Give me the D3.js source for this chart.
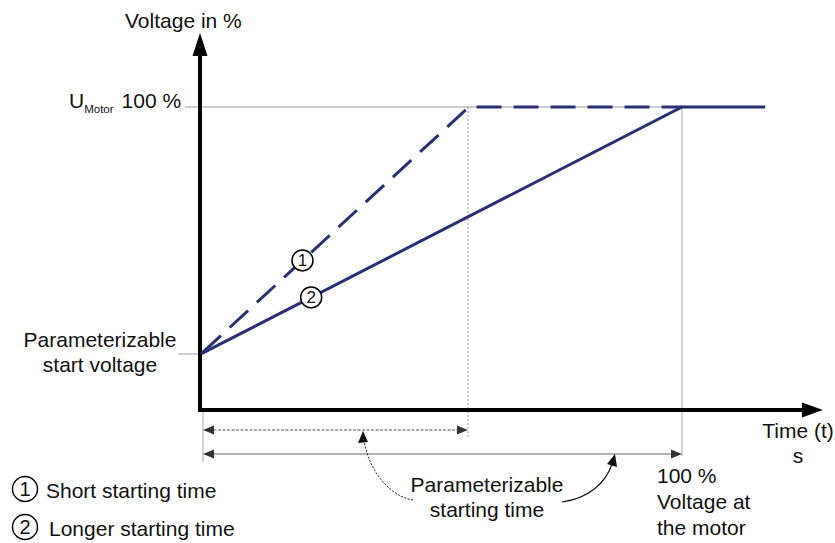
<!DOCTYPE html>
<html>
<head>
<meta charset="utf-8">
<script src="https://cdn.jsdelivr.net/npm/d3@7"></script>
<style>
  body { margin: 0; background: #fff; }
  svg text { font-family: "Liberation Sans", Arial, sans-serif; fill: #111; }
</style>
</head>
<body>
<svg width="835" height="543"></svg>
<script>
// ramp data: time (arbitrary units) vs voltage in %
const shortRamp = [{t: 0, v: 18.5}, {t: 5.57, v: 100}, {t: 10, v: 100}]
const longRamp = [{t: 0, v: 18.5}, {t: 10, v: 100}, {t: 11.73, v: 100}]
const startVoltage = 18.5
const fullVoltage = 100
const tShort = 5.57
const tLong = 10
const tAxisEnd = 12.93
const vAxisEnd = 124.4
const markerTimes = [2.11, 2.29]        // where the (1) and (2) badges sit
const legendItems = ["Short starting time", "Longer starting time"]

const svg = d3.select("svg")
const navy = "#2a3173"
const x = d3.scaleLinear().domain([0, 10]).range([201, 682])
const y = d3.scaleLinear().domain([0, 100]).range([410, 107])

const line = d3.line().x(d => x(d.t)).y(d => y(d.v))

// guide lines
svg.append("line")
  .attr("x1", 185).attr("x2", x(tLong))
  .attr("y1", y(fullVoltage)).attr("y2", y(fullVoltage))
  .attr("stroke", "#bdbdbd").attr("stroke-width", 1.5)
svg.append("line")
  .attr("x1", 178).attr("x2", x(0))
  .attr("y1", y(startVoltage)).attr("y2", y(startVoltage))
  .attr("stroke", "#bdbdbd").attr("stroke-width", 1.5)
svg.append("line")
  .attr("x1", x(tShort) - 1).attr("x2", x(tShort) - 1)
  .attr("y1", y(fullVoltage)).attr("y2", 438)
  .attr("stroke", "#999").attr("stroke-dasharray", "2,2")
svg.append("line")
  .attr("x1", x(tLong)).attr("x2", x(tLong))
  .attr("y1", y(fullVoltage)).attr("y2", 456)
  .attr("stroke", "#aaa")
svg.append("line")
  .attr("x1", x(0) + 2).attr("x2", x(0) + 2)
  .attr("y1", y(0)).attr("y2", 462)
  .attr("stroke", "#aaa")

// axes
svg.append("line")
  .attr("x1", x(0) - 1).attr("x2", x(0) - 1)
  .attr("y1", y(0) + 2).attr("y2", y(vAxisEnd) + 20)
  .attr("stroke", "#000").attr("stroke-width", 4)
svg.append("path")
  .attr("d", `M${x(0) - 1},${y(vAxisEnd)} L${x(0) - 8.5},${y(vAxisEnd) + 23} L${x(0) + 6.5},${y(vAxisEnd) + 23} Z`)
  .attr("fill", "#000")
svg.append("line")
  .attr("x1", x(0) - 3).attr("x2", x(tAxisEnd) - 18)
  .attr("y1", y(0)).attr("y2", y(0))
  .attr("stroke", "#000").attr("stroke-width", 4)
svg.append("path")
  .attr("d", `M${x(tAxisEnd)},${y(0)} L${x(tAxisEnd) - 21},${y(0) - 7.5} L${x(tAxisEnd) - 21},${y(0) + 7.5} Z`)
  .attr("fill", "#000")

// ramps
svg.append("path").datum(longRamp)
  .attr("d", line).attr("fill", "none")
  .attr("stroke", navy).attr("stroke-width", 3)
svg.append("path").datum(shortRamp)
  .attr("d", line).attr("fill", "none")
  .attr("stroke", navy).attr("stroke-width", 3)
  .attr("stroke-dasharray", "25,12").attr("stroke-dashoffset", 35)

// badges on the lines
function vAt(data, t) {
  const i = d3.bisector(d => d.t).right(data, t) - 1
  const a = data[i], b = data[i + 1]
  return a.v + (b.v - a.v) * (t - a.t) / (b.t - a.t)
}
const badges = [
  {n: 1, t: markerTimes[0], v: vAt(shortRamp, markerTimes[0])},
  {n: 2, t: markerTimes[1], v: vAt(longRamp, markerTimes[1])}
]
const bg = svg.selectAll(".badge").data(badges).enter().append("g")
  .attr("transform", d => `translate(${x(d.t)},${y(d.v)})`)
bg.append("circle").attr("r", 10.5).attr("fill", "#fff")
  .attr("stroke", "#000").attr("stroke-width", 1.5)
bg.append("text").attr("text-anchor", "middle").attr("dy", 6)
  .style("font-size", "17px").text(d => d.n)

// dimension arrows
function arrowHead(px, py, dir, color) {
  svg.append("path")
    .attr("d", `M${px},${py} L${px - dir * 11},${py - 4.5} L${px - dir * 11},${py + 4.5} Z`)
    .attr("fill", color)
}
svg.append("line")
  .attr("x1", x(0) + 8).attr("x2", x(tShort) - 8)
  .attr("y1", 430).attr("y2", 430)
  .attr("stroke", "#555").attr("stroke-dasharray", "3,1.5")
arrowHead(x(0) + 2, 430, -1, "#333")
arrowHead(x(tShort) - 1, 430, 1, "#333")
svg.append("line")
  .attr("x1", x(0) + 8).attr("x2", x(tLong) - 8)
  .attr("y1", 454).attr("y2", 454)
  .attr("stroke", "#666").attr("stroke-width", 1.2)
arrowHead(x(0) + 2, 454, -1, "#333")
arrowHead(x(tLong), 454, 1, "#333")

// curved pointers
svg.append("path")
  .attr("d", "M413,500 C388,496 368,468 364,440")
  .attr("fill", "none").attr("stroke", "#222").attr("stroke-dasharray", "2,1.5")
svg.append("path").attr("d", "M363,431 L358,443 L368,442 Z").attr("fill", "#111")
svg.append("path")
  .attr("d", "M562,502 C590,498 606,482 612,464")
  .attr("fill", "none").attr("stroke", "#111").attr("stroke-width", 1.2)
svg.append("path").attr("d", "M615,454 L607,464 L617,467 Z").attr("fill", "#111")

// labels
function label(tx, ty, str, size, anchor) {
  return svg.append("text").attr("x", tx).attr("y", ty)
    .attr("text-anchor", anchor || "start")
    .style("font-size", size + "px").text(str)
}
label(125, 28, "Voltage in %", 21)
const um = svg.append("text").attr("x", 69).attr("y", y(fullVoltage) + 1).style("font-size", "21px")
um.append("tspan").text("U")
um.append("tspan").attr("dy", 5).style("font-size", "11.5px").text("Motor")
um.append("tspan").attr("dy", -5).attr("dx", 8).text("100 %")
label(100, 347, "Parameterizable", 21, "middle")
label(100, 372, "start voltage", 21, "middle")
label(798, 438, "Time (t)", 21, "middle")
label(798, 463, "s", 21, "middle")
label(657, 483, "100 %", 21)
label(657, 509, "Voltage at", 21)
label(657, 535, "the motor", 21)
label(487, 492, "Parameterizable", 21, "middle")
label(487, 517, "starting time", 21, "middle")

// legend
const lg = svg.selectAll(".leg").data(legendItems).enter().append("g")
  .attr("transform", (d, i) => `translate(25,${489 + i * 38})`)
lg.append("circle").attr("r", 12.5).attr("fill", "#fff")
  .attr("stroke", "#000").attr("stroke-width", 1.4)
lg.append("text").attr("text-anchor", "middle").attr("dy", 7)
  .style("font-size", "20px").text((d, i) => i + 1)
lg.append("text").attr("x", (d, i) => 21 + i * 3).attr("dy", 9)
  .style("font-size", "21px").text(d => d)
</script>
</body>
</html>
